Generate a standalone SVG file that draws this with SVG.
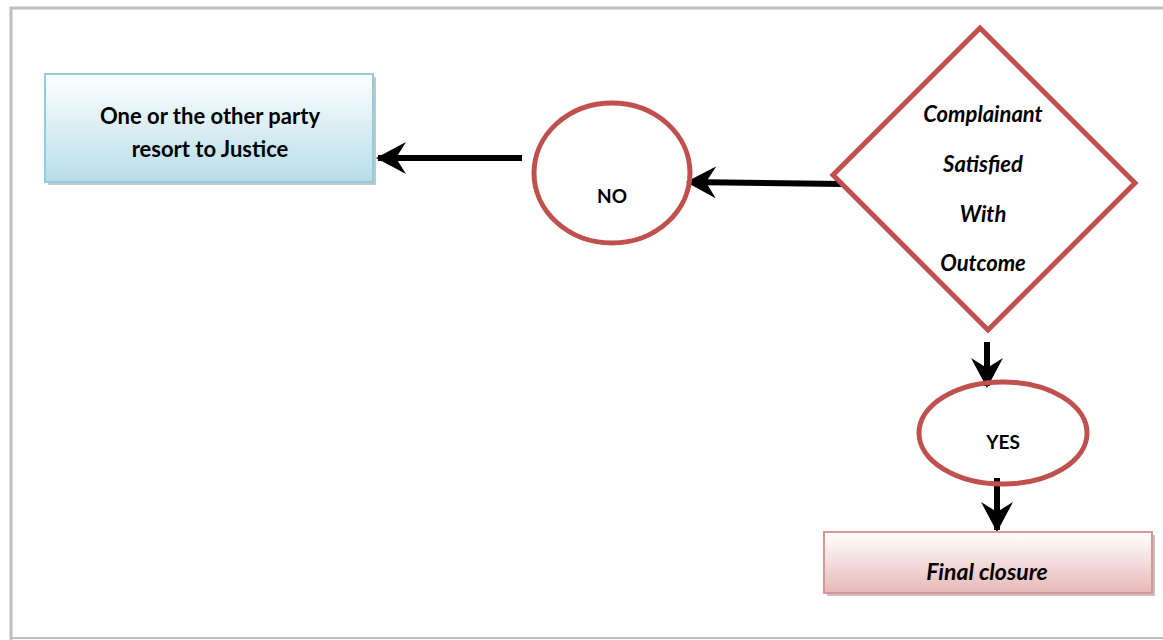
<svg xmlns="http://www.w3.org/2000/svg" width="1163" height="640" viewBox="0 0 1163 640">
<style>
.t{font-family:Lato,"Open Sans","Liberation Sans",sans-serif;font-weight:bold;fill:#000;text-anchor:middle}
.red{fill:none;stroke:#c0504d;stroke-width:5}
.conn{stroke:#000;stroke-width:6;fill:none}
</style>
<defs>
<linearGradient id="gBlue" x1="0" y1="0" x2="0" y2="1">
<stop offset="0" stop-color="#ffffff"/><stop offset="1" stop-color="#b7dde8"/>
</linearGradient>
<linearGradient id="gPink" x1="0" y1="0" x2="0" y2="1">
<stop offset="0" stop-color="#ffffff"/><stop offset="1" stop-color="#e6b9b8"/>
</linearGradient>
<marker id="ah" viewBox="0 0 30 32" refX="28" refY="16" markerWidth="30" markerHeight="32" markerUnits="userSpaceOnUse" orient="auto">
<path d="M0,0 L30,16 L0,32 L10,16 Z" fill="#000"/>
</marker>
</defs>
<rect width="1163" height="640" fill="#fff"/>
<path d="M11,640 L11,8 L1163,8" fill="none" stroke="#bfbfbf" stroke-width="3"/>
<line x1="11" y1="638" x2="1163" y2="638" stroke="#bfbfbf" stroke-width="2"/>

<g id="connectors">
<line class="conn" x1="522" y1="158" x2="378" y2="158" marker-end="url(#ah)"/>
<line class="conn" x1="843" y1="184" x2="688" y2="182" marker-end="url(#ah)"/>
<line class="conn" x1="987" y1="342" x2="987" y2="386" marker-end="url(#ah)"/>
<line class="conn" x1="997" y1="478" x2="997" y2="530" marker-end="url(#ah)"/>
</g>

<g id="node-justice">
<rect x="48" y="77" width="328" height="108" fill="#9aa5a8" opacity="0.6"/>
<rect x="45" y="74" width="328" height="108" fill="url(#gBlue)" stroke="#93cddd" stroke-width="2"/>
<text class="t" x="210" y="124" font-size="22">One or the other party</text>
<text class="t" x="210" y="157" font-size="22">resort to Justice</text>
</g>

<g id="node-no">
<ellipse class="red" cx="612" cy="173" rx="78" ry="70"/>
<text class="t" x="612" y="203" font-size="19">NO</text>
</g>

<g id="node-decision">
<polygon class="red" points="980,28 1135,183 988,330 833,175"/>
<g font-style="italic">
<text class="t" x="983" y="122" font-size="22">Complainant</text>
<text class="t" x="983" y="172" font-size="22">Satisfied</text>
<text class="t" x="983" y="222" font-size="22">With</text>
<text class="t" x="983" y="271" font-size="22">Outcome</text>
</g>
</g>

<g id="node-yes">
<ellipse class="red" cx="1003" cy="433" rx="84" ry="51"/>
<text class="t" x="1003" y="449" font-size="19">YES</text>
</g>

<g id="node-closure">
<rect x="827" y="535" width="328" height="61" fill="#a89696" opacity="0.6"/>
<rect x="824" y="532" width="328" height="61" fill="url(#gPink)" stroke="#d99694" stroke-width="2"/>
<text class="t" x="987" y="580" font-size="23" font-style="italic">Final closure</text>
</g>
</svg>
